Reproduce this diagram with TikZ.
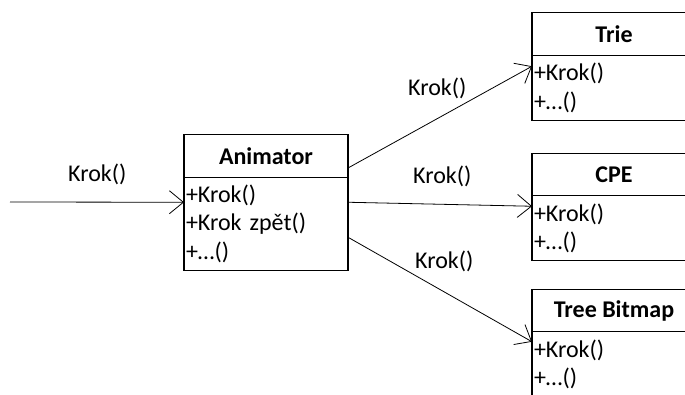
\documentclass[tikz,border=0pt]{standalone}
\usepackage{fontspec}
\setmainfont{Carlito}
\usetikzlibrary{positioning,arrows.meta}
\newcommand{\umlsize}{\fontsize{24}{28.5}\selectfont}
\tikzset{
	classhead/.style = {draw=black, line width=1.4pt, outer sep=0pt, inner sep=0pt, minimum width=164pt, minimum height=42.5pt, font=\umlsize\bfseries},
	classbody/.style = {draw=black, line width=1.4pt, outer sep=0pt, inner xsep=2pt, inner ysep=0pt, minimum width=164pt, text width=160pt, align=left, font=\umlsize},
	msg/.style = {anchor=base west, inner sep=0pt, font=\umlsize},
	call/.style = {line width=0.8pt, -{Straight Barb[length=14pt, width=23pt, line width=0.8pt]}}
}

\begin{document}
\begin{tikzpicture}[x=1pt, y=-1pt]
\useasboundingbox (0,0) rectangle (685,394);

% Animator
\node [classhead] (animhead) at (266,156) {Animator};
\node [classbody, minimum height=93pt, below=0pt of animhead] (animbody) {+Krok()\\+Krok zpět()\\+\dots()};

% algoritmy
\node [classhead] (triehead) at (614,34) {Trie};
\node [classbody, minimum height=65pt, below=0pt of triehead] (triebody) {+Krok()\\+\dots()};
\node [classhead] (cpehead) at (614,174.5) {CPE};
\node [classbody, minimum height=65pt, below=0pt of cpehead] (cpebody) {+Krok()\\+\dots()};
\node [classhead] (tbmhead) at (614,310.5) {Tree Bitmap};
\node [classbody, minimum height=65pt, below=0pt of tbmhead] (tbmbody) {+Krok()\\+\dots()};

% zpravy
\coordinate (vstup) at (10,202);
\node [msg] (msgin) at (68,181) {Krok()};
\node [msg] (msgtrie) at (408,95) {Krok()};
\node [msg] (msgcpe) at (413,183) {Krok()};
\node [msg] (msgtbm) at (415,268) {Krok()};

\draw [call] (vstup) -- ([yshift=21.5pt]animbody.west);
\draw [call] ([yshift=-12pt]animhead.east) -- ([yshift=21.5pt]triebody.west);
\draw [call] ([yshift=21.5pt]animbody.east) -- ([yshift=22pt]cpebody.west);
\draw [call] ([yshift=-13.5pt]animbody.east) -- ([yshift=22.5pt]tbmbody.west);
\end{tikzpicture}
\end{document}
